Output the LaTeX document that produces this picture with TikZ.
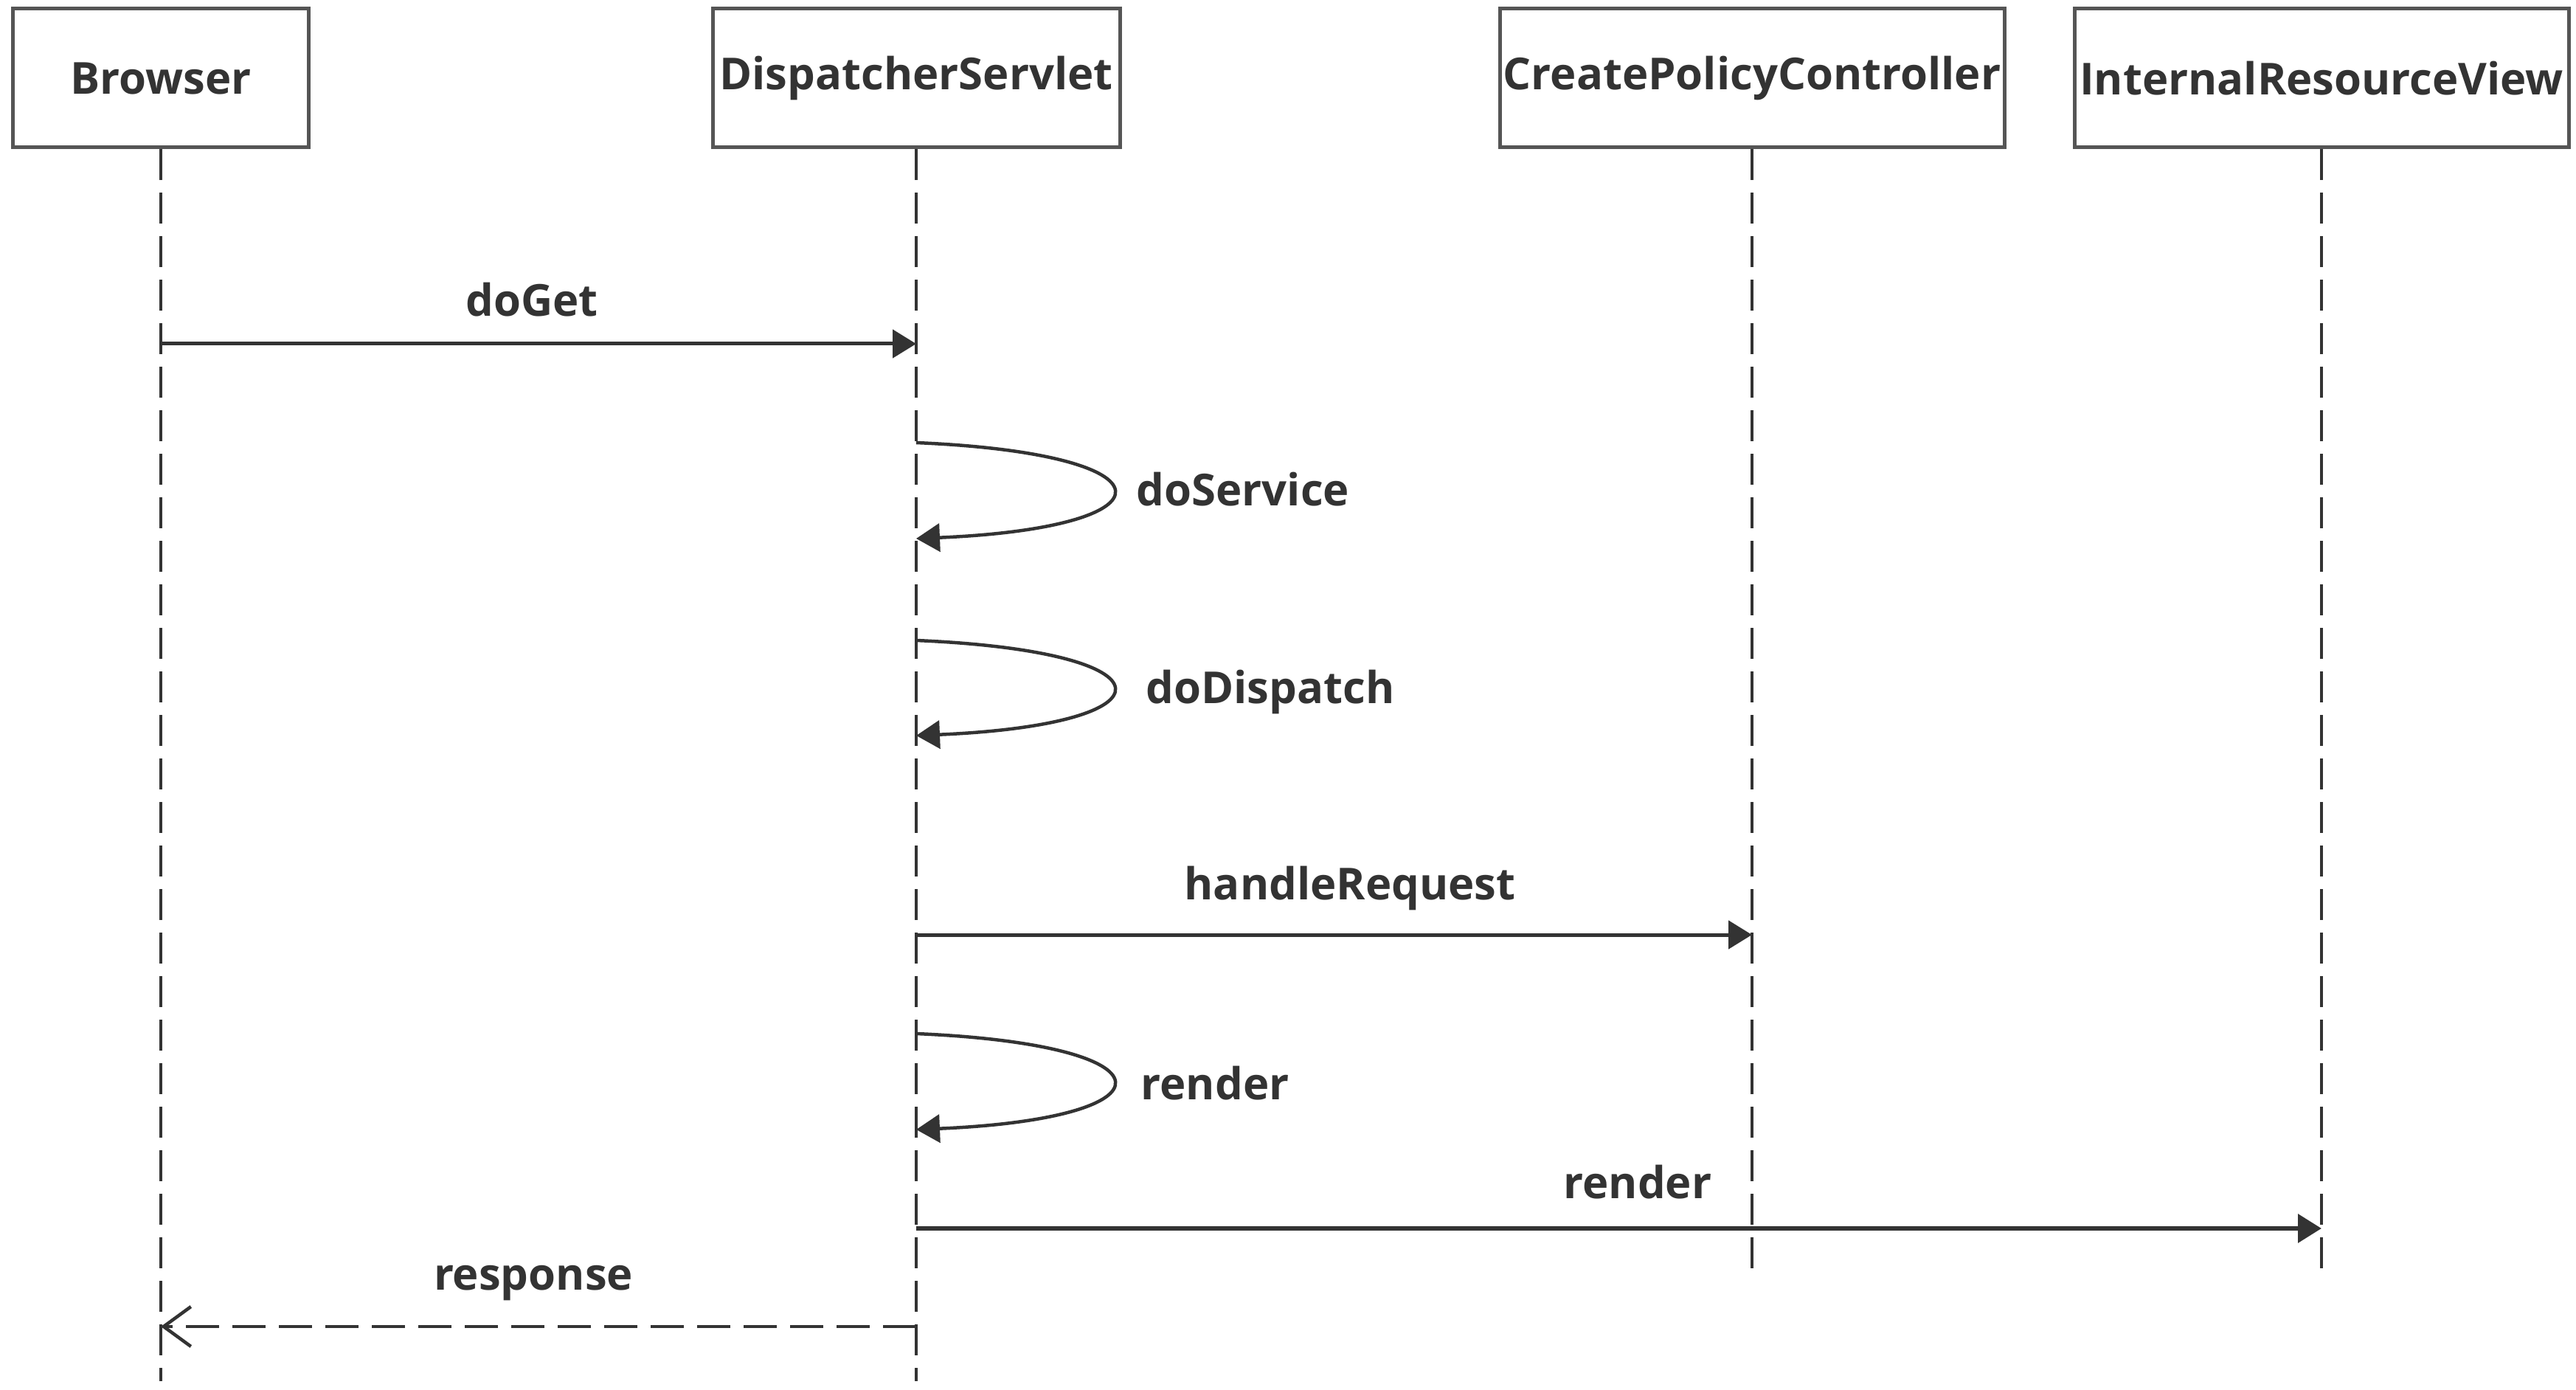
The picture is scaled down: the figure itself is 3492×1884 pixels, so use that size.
\documentclass[tikz,border=0pt]{standalone}
\usepackage{fontspec}
\setmainfont{Open Sans}
\usetikzlibrary{arrows.meta}
\definecolor{ink}{HTML}{333333}
\definecolor{frame}{HTML}{555555}

\begin{document}
\begin{tikzpicture}[
    x=0.1mm, y=-0.1mm,
    every node/.style={font=\fontsize{17}{20}\selectfont\bfseries, text=ink},
    head/.style={rectangle, draw=frame, line width=0.5mm, fill=white, minimum height=18.8mm, inner sep=0pt},
    life/.style={draw=ink, line width=0.45mm, dash pattern=on 4.2mm off 1.7mm},
    call/.style={draw=ink, line width=0.5mm, -{Triangle[length=3.2mm, width=3.8mm]}},
    self/.style={call, line width=0.45mm},
    reply/.style={draw=ink, line width=0.45mm, dash pattern=on 4.5mm off 1.8mm, -{Straight Barb[length=3.7mm, width=5.4mm]}},
    msg/.style={anchor=base},
    note/.style={anchor=base west, inner xsep=0pt}
  ]
  \useasboundingbox (0,0) rectangle (3492,1884);

  % lifeline heads
  \node[head, minimum width=40.1mm] (browser) at (218,106) {Browser};
  \node[head, minimum width=55.2mm] (servlet) at (1242,106) {DispatcherServlet};
  \node[head, minimum width=68.4mm] (controller) at (2375,106) {CreatePolicyController};
  \node[head, minimum width=67mm] (view) at (3147,106) {InternalResourceView};

  % lifelines
  \coordinate (browser end) at (browser |- 0,1872);
  \coordinate (servlet end) at (servlet |- 0,1872);
  \coordinate (controller end) at (controller |- 0,1725);
  \coordinate (view end) at (view |- 0,1725);
  \foreach \n in {browser, servlet, controller, view}
    \draw[life] (\n.south) -- (\n\space end);

  % points on the lifelines
  \coordinate (b1) at (browser |- 0,466);
  \coordinate (s1) at (servlet |- 0,466);
  \coordinate (s2) at (servlet |- 0,600);
  \coordinate (s3) at (servlet |- 0,730);
  \coordinate (s4) at (servlet |- 0,868);
  \coordinate (s5) at (servlet |- 0,997);
  \coordinate (s6) at (servlet |- 0,1267);
  \coordinate (c6) at (controller |- 0,1267);
  \coordinate (s7) at (servlet |- 0,1401);
  \coordinate (s8) at (servlet |- 0,1531);
  \coordinate (s9) at (servlet |- 0,1665);
  \coordinate (v9) at (view |- 0,1665);
  \coordinate (s10) at (servlet |- 0,1798);
  \coordinate (b10) at (browser |- 0,1798);

  % messages
  \draw[call] (b1) -- (s1);
  \node[msg] (doget) at (721,429) {doGet};

  \draw[self] (s2) .. controls +(355,15) and +(355,-15) .. (s3);
  \node[note] (doservice) at (1540,686) {doService};

  \draw[self] (s4) .. controls +(355,15) and +(355,-15) .. (s5);
  \node[note] (dodispatch) at (1553,953) {doDispatch};

  \draw[call] (s6) -- (c6);
  \node[msg] (handle) at (1830,1219) {handleRequest};

  \draw[self] (s7) .. controls +(355,15) and +(355,-15) .. (s8);
  \node[note] (render self) at (1546,1490) {render};

  \draw[call, line width=0.65mm] (s9) -- (v9);
  \node[msg] (render view) at (2220,1624) {render};

  \draw[reply] (s10) -- (b10);
  \node[msg] (response) at (723,1748) {response};
\end{tikzpicture}
\end{document}
